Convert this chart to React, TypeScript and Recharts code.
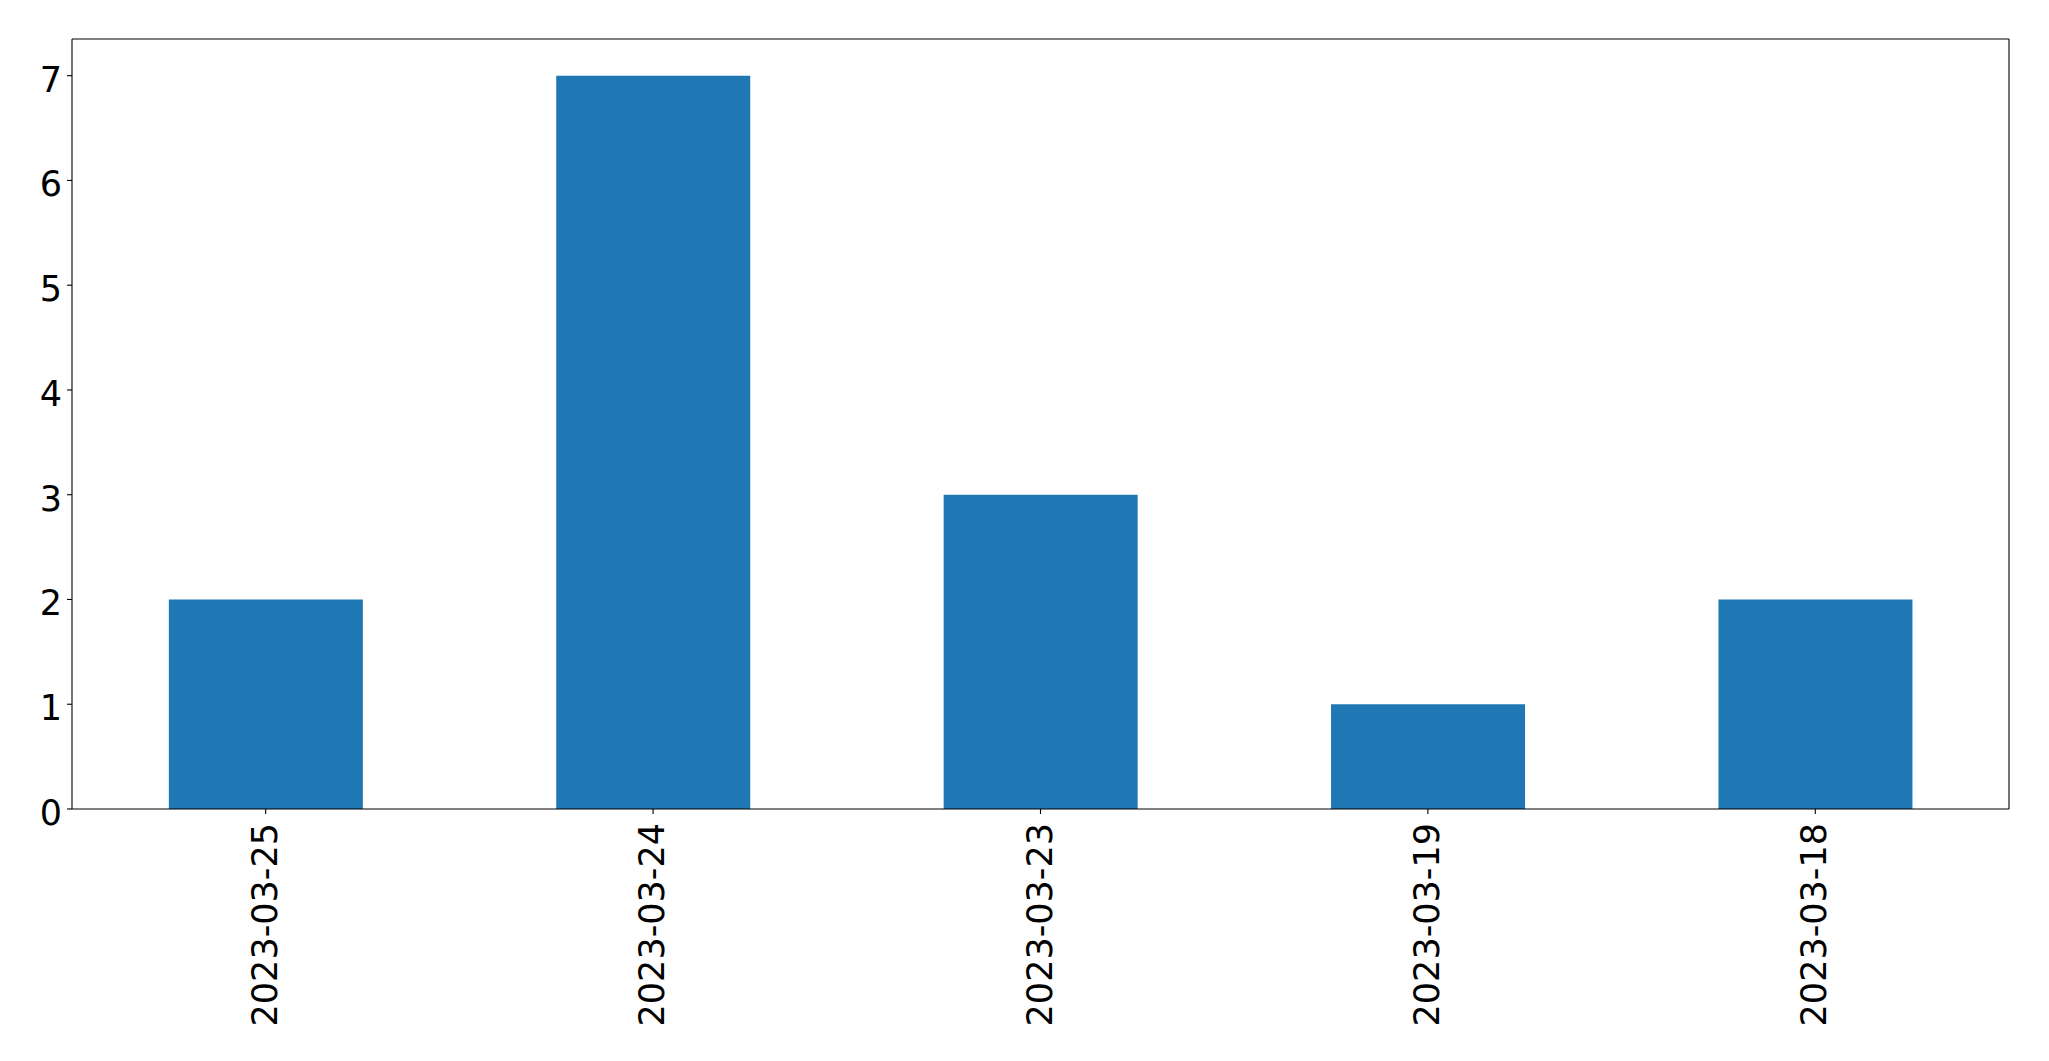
import React from "react";
import { BarChart, Bar, XAxis, YAxis } from "recharts";

const dates = ["2023-03-25", "2023-03-24", "2023-03-23", "2023-03-19", "2023-03-18"];
const counts = [2, 7, 3, 1, 2];
const yTicks = [0, 1, 2, 3, 4, 5, 6, 7];

const data = dates.map((d, i) => ({ date: d, count: counts[i] }));

const FONT = "'DejaVu Sans', sans-serif";

const XTick = (props: any) => {
  const { x, y, payload } = props;
  return (
    <text
      x={x}
      y={y}
      dy={11}
      transform={`rotate(-90, ${x}, ${y})`}
      textAnchor="end"
      fontSize={35}
      fontFamily={FONT}
      fill="#000"
    >
      {payload.value}
    </text>
  );
};

const YTick = (props: any) => {
  const { x, y, payload } = props;
  return (
    <text x={x} y={y} dy={16} textAnchor="end" fontSize={35} fontFamily={FONT} fill="#000">
      {payload.value}
    </text>
  );
};

export default function App() {
  return (
    <div style={{ position: "absolute", left: 0, top: 0, background: "#fff" }}>
      <BarChart
        width={2049}
        height={1061}
        data={data}
        margin={{ top: 38, right: 39, bottom: 0, left: 0 }}
        barCategoryGap="25%"
      >
        <XAxis
          dataKey="date"
          interval={0}
          height={252}
          tickSize={5}
          tickMargin={9}
          tick={<XTick />}
          axisLine={{ stroke: "#000", strokeWidth: 1.1 }}
          tickLine={{ stroke: "#000", strokeWidth: 1.1 }}
        />
        <XAxis
          xAxisId="top"
          dataKey="date"
          orientation="top"
          height={1}
          tick={false}
          tickLine={false}
          axisLine={{ stroke: "#000", strokeWidth: 1.1 }}
        />
        <YAxis
          domain={[0, 7.35]}
          ticks={yTicks}
          width={72}
          tickSize={5}
          tickMargin={5}
          tick={<YTick />}
          allowDataOverflow
          axisLine={{ stroke: "#000", strokeWidth: 1.1 }}
          tickLine={{ stroke: "#000", strokeWidth: 1.1 }}
        />
        <YAxis
          yAxisId="right"
          orientation="right"
          domain={[0, 7.35]}
          width={1}
          tick={false}
          tickLine={false}
          axisLine={{ stroke: "#000", strokeWidth: 1.1 }}
        />
        <Bar dataKey="count" fill="#1f77b4" isAnimationActive={false} />
      </BarChart>
    </div>
  );
}
